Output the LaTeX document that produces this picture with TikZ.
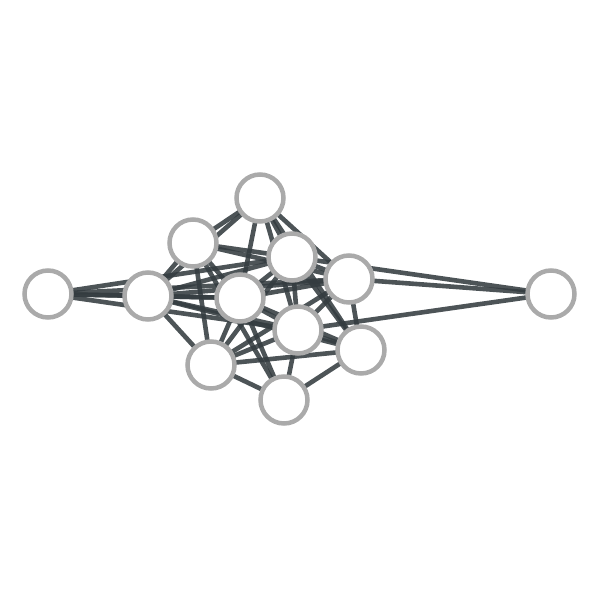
\documentclass[tikz,border=0pt]{standalone}
\usetikzlibrary{backgrounds}
\definecolor{edgecol}{RGB}{52,60,64}
\definecolor{nodecol}{RGB}{170,170,170}
\tikzset{
  vert/.style={circle,draw=nodecol,fill=white,line width=4.5pt,minimum size=47pt,inner sep=0pt},
  link/.style={draw=edgecol,line width=4.6pt,opacity=0.88}
}
\begin{document}
\begin{tikzpicture}[x=1pt,y=-1pt]
\useasboundingbox (0,0) rectangle (600,600);
\node[vert] (A) at (48,294) {};
\node[vert] (B) at (148,296) {};
\node[vert] (C) at (193,243) {};
\node[vert] (D) at (260,198) {};
\node[vert] (E) at (292,257) {};
\node[vert] (F) at (349,279) {};
\node[vert] (G) at (240,298) {};
\node[vert] (H) at (298,330) {};
\node[vert] (I) at (361,350) {};
\node[vert] (J) at (211,365) {};
\node[vert] (K) at (284,400) {};
\node[vert] (L) at (551,294) {};
\begin{scope}[on background layer]
\foreach \a/\b in {A/B,A/E,A/G,A/H,A/F,
  L/E,L/F,L/H,
  B/C,B/D,B/E,B/G,B/F,B/H,B/I,B/J,
  C/D,C/E,C/G,C/J,C/K,C/F,
  D/E,D/G,D/F,D/I,D/H,
  E/G,E/F,E/H,E/I,E/J,
  F/H,F/I,F/G,F/J,
  G/H,G/J,G/K,G/I,
  H/I,H/J,H/K,
  I/J,I/K,
  J/K}
  \path[link] (\a.center) -- (\b.center);
\end{scope}
\end{tikzpicture}
\end{document}
